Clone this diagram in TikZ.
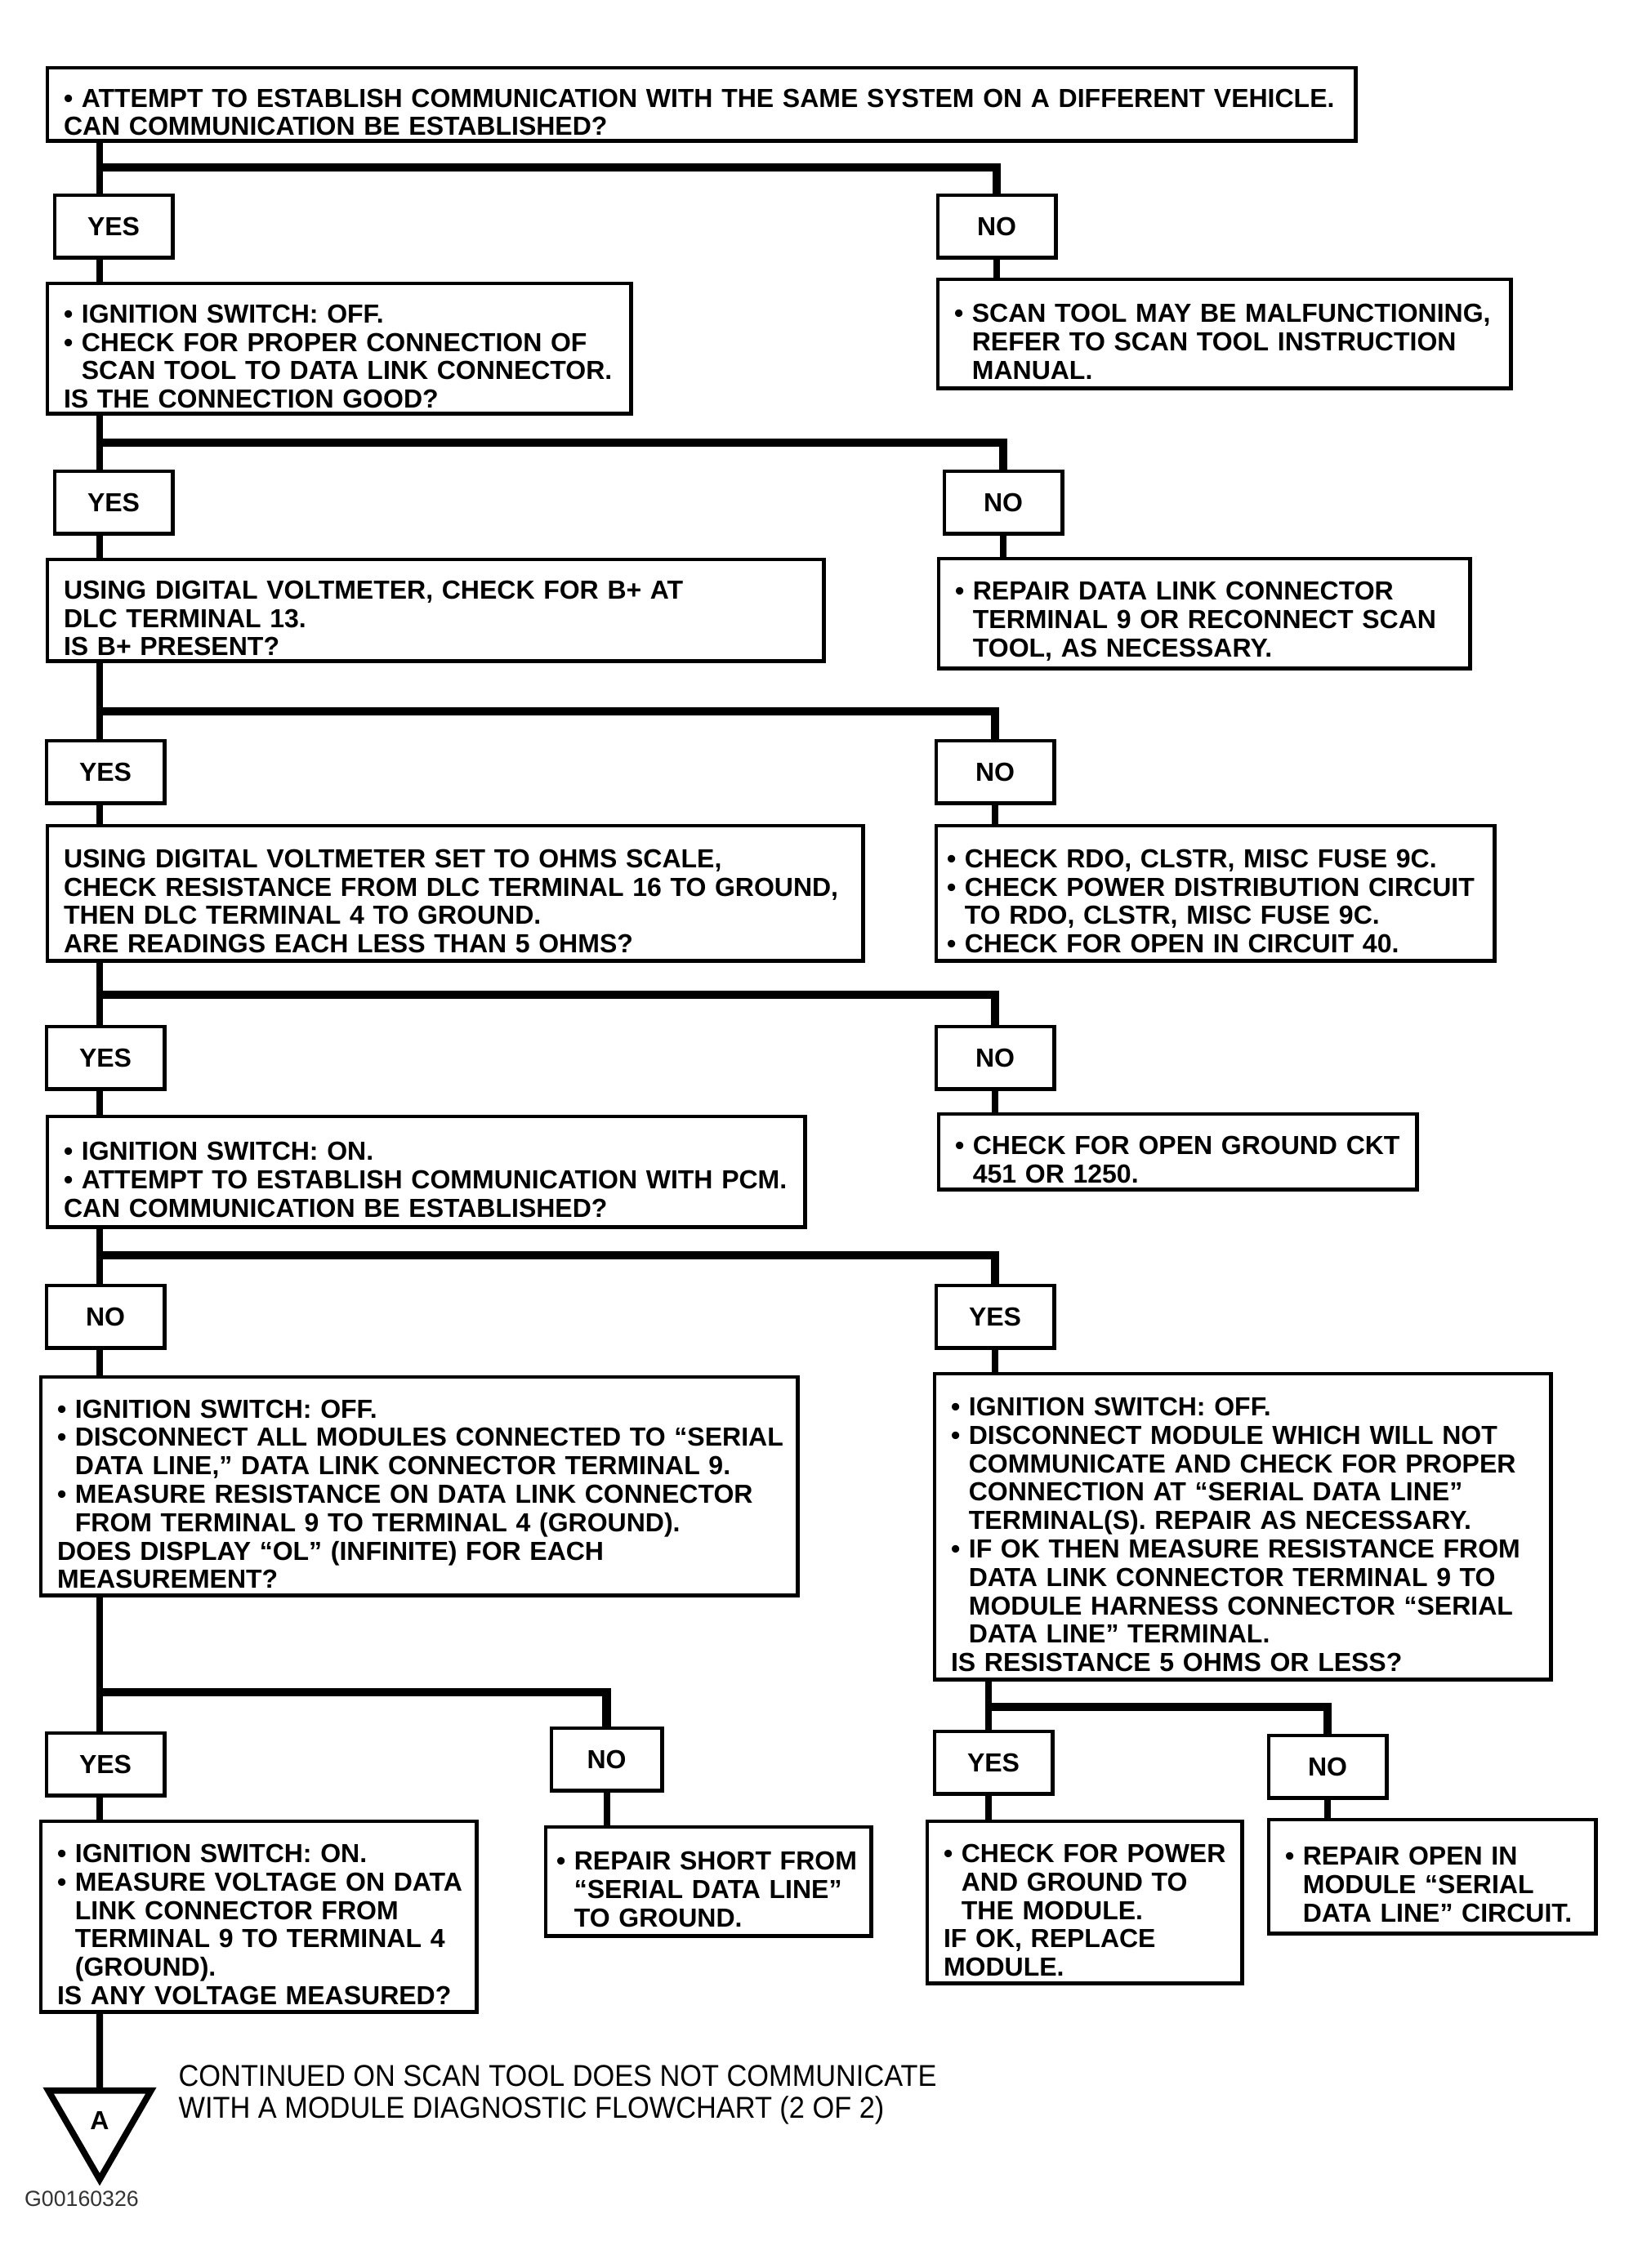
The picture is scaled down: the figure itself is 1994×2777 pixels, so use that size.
\documentclass[tikz,border=0pt]{standalone}
\usepackage{fontspec}
\setmainfont{Liberation Sans}
\newfontfamily\chartfont{Liberation Sans}
\newfontfamily\notefont[FakeStretch=0.93]{Liberation Sans}
\usetikzlibrary{shapes.geometric}
\newcommand{\bul}{\textbullet\ }
\newcommand{\ind}{\hphantom{\textbullet\ }}

\begin{document}
\begin{tikzpicture}[x=0.01cm, y=-0.01cm,
  box/.style={draw, line width=1.4pt, anchor=north west, align=left, inner xsep=0.1cm,
              inner ysep=0pt, outer sep=0pt, font=\chartfont\bfseries\fontsize{9.1}{9.9}\selectfont,
              execute at begin node={\leftskip=0.1cm\rule{0pt}{12pt}}},
  answer/.style={draw, line width=1.4pt, anchor=north west, minimum width=1.44cm,
                 minimum height=0.76cm, outer sep=0pt, font=\chartfont\bfseries\fontsize{9.1}{9.9}\selectfont},
  tri/.style={draw, line width=2.2pt, regular polygon, regular polygon sides=3,
              shape border rotate=180, minimum size=1.45cm, inner sep=0pt, outer sep=0pt,
              font=\chartfont\bfseries\fontsize{9.1}{9.9}\selectfont},
  trunk/.style={line width=2.3pt},
  bar/.style={line width=2.9pt},
]
  \useasboundingbox (0,0) rectangle (1994,2777);

  % first check
  \node[box, text width=15.81cm, minimum height=0.89cm] (b1) at (58,83)
    {\bul ATTEMPT TO ESTABLISH COMMUNICATION WITH THE SAME SYSTEM ON A DIFFERENT VEHICLE.\\
     CAN COMMUNICATION BE ESTABLISHED?};
  \node[answer] (yes1) at (67,239) {YES};
  \node[answer] (no1) at (1148,239) {NO};
  \node[box, text width=6.94cm, minimum height=1.59cm] (b2) at (58,347)
    {\bul IGNITION SWITCH: OFF.\\
     \bul CHECK FOR PROPER CONNECTION OF\\
     \ind SCAN TOOL TO DATA LINK CONNECTOR.\\
     IS THE CONNECTION GOOD?};
  \node[box, text width=6.81cm, minimum height=1.33cm] (b3) at (1148,342)
    {\bul SCAN TOOL MAY BE MALFUNCTIONING,\\
     \ind REFER TO SCAN TOOL INSTRUCTION\\
     \ind MANUAL.};

  % B+ at terminal 13
  \node[answer] (yes2) at (67,577) {YES};
  \node[answer] (no2) at (1156,577) {NO};
  \node[box, text width=9.30cm, minimum height=1.24cm] (b4) at (58,685)
    {USING DIGITAL VOLTMETER, CHECK FOR B+ AT\\
     DLC TERMINAL 13.\\
     IS B+ PRESENT?};
  \node[box, text width=6.30cm, minimum height=1.34cm] (b5) at (1149,684)
    {\bul REPAIR DATA LINK CONNECTOR\\
     \ind TERMINAL 9 OR RECONNECT SCAN\\
     \ind TOOL, AS NECESSARY.};

  % ground resistance
  \node[answer] (yes3) at (57,907) {YES};
  \node[answer] (no3) at (1146,907) {NO};
  \node[box, text width=9.78cm, minimum height=1.65cm] (b6) at (58,1011)
    {USING DIGITAL VOLTMETER SET TO OHMS SCALE,\\
     CHECK RESISTANCE FROM DLC TERMINAL 16 TO GROUND,\\
     THEN DLC TERMINAL 4 TO GROUND.\\
     ARE READINGS EACH LESS THAN 5 OHMS?};
  \node[box, execute at begin node={\leftskip=0.03cm}, text width=6.63cm, minimum height=1.65cm] (b7) at (1146,1011)
    {\bul CHECK RDO, CLSTR, MISC FUSE 9C.\\
     \bul CHECK POWER DISTRIBUTION CIRCUIT\\
     \ind TO RDO, CLSTR, MISC FUSE 9C.\\
     \bul CHECK FOR OPEN IN CIRCUIT 40.};

  % PCM communication
  \node[answer] (yes4) at (57,1257) {YES};
  \node[answer] (no4) at (1146,1257) {NO};
  \node[box, text width=9.07cm, minimum height=1.35cm] (b8) at (58,1367)
    {\bul IGNITION SWITCH: ON.\\
     \bul ATTEMPT TO ESTABLISH COMMUNICATION WITH PCM.\\
     CAN COMMUNICATION BE ESTABLISHED?};
  \node[box, text width=5.65cm, minimum height=0.92cm] (b9) at (1149,1364)
    {\bul CHECK FOR OPEN GROUND CKT\\
     \ind 451 OR 1250.};

  % serial data line
  \node[answer] (no5) at (57,1574) {NO};
  \node[answer] (yes5) at (1146,1574) {YES};
  \node[box, text width=9.06cm, minimum height=2.67cm] (b10) at (50,1686)
    {\bul IGNITION SWITCH: OFF.\\
     \bul DISCONNECT ALL MODULES CONNECTED TO “SERIAL\\
     \ind DATA LINE,” DATA LINK CONNECTOR TERMINAL 9.\\
     \bul MEASURE RESISTANCE ON DATA LINK CONNECTOR\\
     \ind FROM TERMINAL 9 TO TERMINAL 4 (GROUND).\\
     DOES DISPLAY “OL” (INFINITE) FOR EACH\\
     MEASUREMENT?};
  \node[box, text width=7.34cm, minimum height=3.74cm] (b11) at (1144,1682)
    {\bul IGNITION SWITCH: OFF.\\
     \bul DISCONNECT MODULE WHICH WILL NOT\\
     \ind COMMUNICATE AND CHECK FOR PROPER\\
     \ind CONNECTION AT “SERIAL DATA LINE”\\
     \ind TERMINAL(S). REPAIR AS NECESSARY.\\
     \bul IF OK THEN MEASURE RESISTANCE FROM\\
     \ind DATA LINK CONNECTOR TERMINAL 9 TO\\
     \ind MODULE HARNESS CONNECTOR “SERIAL\\
     \ind DATA LINE” TERMINAL.\\
     IS RESISTANCE 5 OHMS OR LESS?};

  % last row
  \node[answer] (yes6) at (57,2122) {YES};
  \node[answer, minimum width=1.35cm] (no6) at (675,2116) {NO};
  \node[answer] (yes7) at (1144,2120) {YES};
  \node[answer] (no7) at (1553,2125) {NO};
  \node[box, text width=5.13cm, minimum height=2.33cm] (b12) at (50,2230)
    {\bul IGNITION SWITCH: ON.\\
     \bul MEASURE VOLTAGE ON DATA\\
     \ind LINK CONNECTOR FROM\\
     \ind TERMINAL 9 TO TERMINAL 4\\
     \ind (GROUND).\\
     IS ANY VOLTAGE MEASURED?};
  \node[box, execute at begin node={\leftskip=0.03cm}, text width=3.78cm, minimum height=1.33cm] (b13) at (668,2237)
    {\bul REPAIR SHORT FROM\\
     \ind “SERIAL DATA LINE”\\
     \ind TO GROUND.};
  \node[box, text width=3.65cm, minimum height=1.98cm] (b14) at (1135,2230)
    {\bul CHECK FOR POWER\\
     \ind AND GROUND TO\\
     \ind THE MODULE.\\
     IF OK, REPLACE\\
     MODULE.};
  \node[box, text width=3.80cm, minimum height=1.39cm] (b15) at (1553,2228)
    {\bul REPAIR OPEN IN\\
     \ind MODULE “SERIAL\\
     \ind DATA LINE” CIRCUIT.};

  % continuation
  \node[tri] (cont) at (122,2596) {A};
  \node[anchor=west, align=left, inner sep=0pt, font=\notefont\fontsize{10.5}{11.1}\selectfont] (note) at (218,2565)
    {CONTINUED ON SCAN TOOL DOES NOT COMMUNICATE\\
     WITH A MODULE DIAGNOSTIC FLOWCHART (2 OF 2)};
  \node[inner sep=0pt, text=black!80, font=\chartfont\fontsize{7.6}{9}\selectfont] (fig) at (100,2692) {G00160326};

  % junctions
  \coordinate (j1) at (122,205);
  \coordinate (j2) at (122,542);
  \coordinate (j3) at (122,871);
  \coordinate (j4) at (122,1218);
  \coordinate (j5) at (122,1537);
  \coordinate (j6) at (122,2072);
  \coordinate (j7) at (1210,2090);

  % connectors
  \draw[trunk] (b1.south -| j1) -- (yes1.north -| j1);
  \draw[bar] (j1) -| (no1.north);
  \draw[trunk] (yes1.south -| j1) -- (b2.north -| j1);
  \draw[trunk] (no1.south) -- (no1.south |- b3.north);

  \draw[trunk] (b2.south -| j2) -- (yes2.north -| j2);
  \draw[bar] (j2) -| (no2.north);
  \draw[trunk] (yes2.south -| j2) -- (b4.north -| j2);
  \draw[trunk] (no2.south) -- (no2.south |- b5.north);

  \draw[trunk] (b4.south -| j3) -- (yes3.north -| j3);
  \draw[bar] (j3) -| (no3.north);
  \draw[trunk] (yes3.south -| j3) -- (b6.north -| j3);
  \draw[trunk] (no3.south) -- (no3.south |- b7.north);

  \draw[trunk] (b6.south -| j4) -- (yes4.north -| j4);
  \draw[bar] (j4) -| (no4.north);
  \draw[trunk] (yes4.south -| j4) -- (b8.north -| j4);
  \draw[trunk] (no4.south) -- (no4.south |- b9.north);

  \draw[trunk] (b8.south -| j5) -- (no5.north -| j5);
  \draw[bar] (j5) -| (yes5.north);
  \draw[trunk] (no5.south -| j5) -- (b10.north -| j5);
  \draw[trunk] (yes5.south) -- (yes5.south |- b11.north);

  \draw[trunk] (b10.south -| j6) -- (yes6.north -| j6);
  \draw[bar] (j6) -| (no6.north);
  \draw[trunk] (yes6.south -| j6) -- (b12.north -| j6);
  \draw[trunk] (no6.south) -- (no6.south |- b13.north);

  \draw[trunk] (b11.south -| j7) -- (yes7.north -| j7);
  \draw[bar] (j7) -| (no7.north);
  \draw[trunk] (yes7.south -| j7) -- (b14.north -| j7);
  \draw[trunk] (no7.south) -- (no7.south |- b15.north);

  \draw[trunk] (b12.south -| cont) -- (cont.north);
\end{tikzpicture}
\end{document}
